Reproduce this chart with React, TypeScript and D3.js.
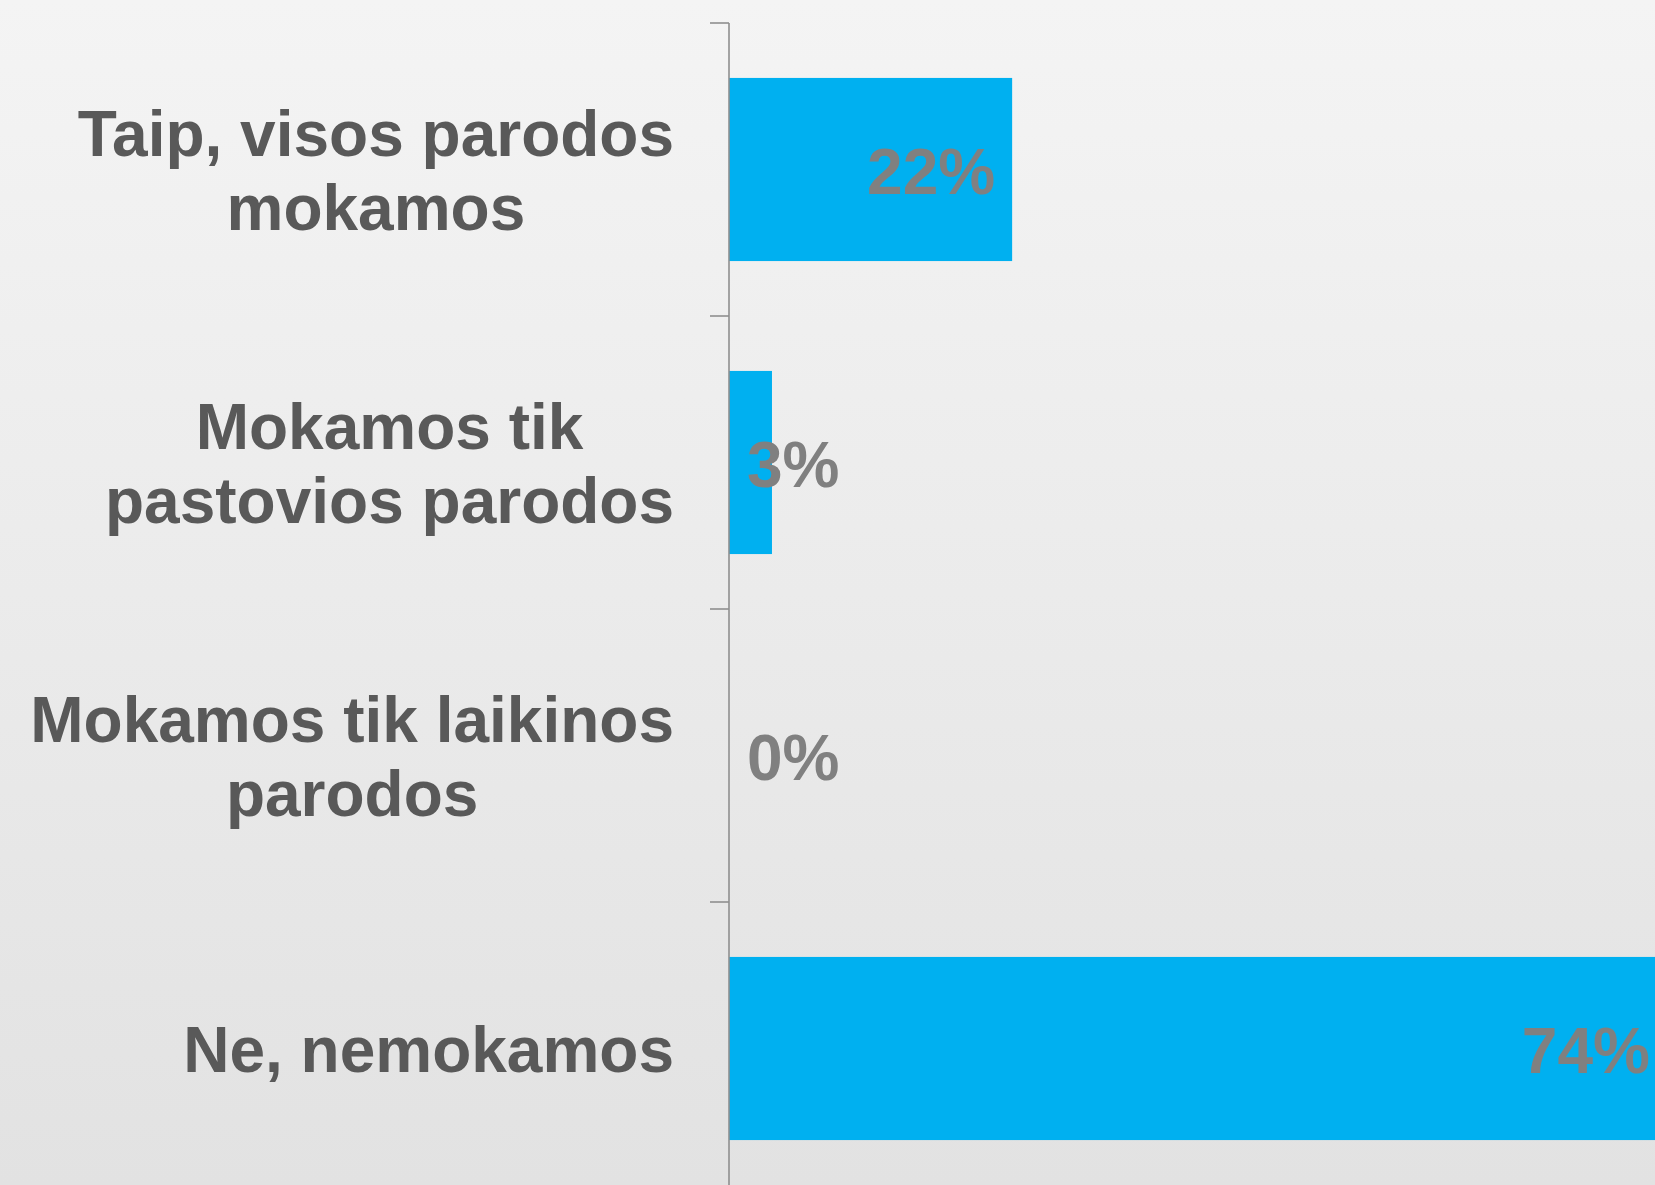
import React, { useMemo } from "react";
import * as d3 from "d3";

const W = 1655;
const H = 1185;

const categories: string[][] = [
  ["Taip, visos parodos", "mokamos"],
  ["Mokamos tik", "pastovios parodos"],
  ["Mokamos tik laikinos", "parodos"],
  ["Ne, nemokamos"],
];
const values: number[] = [22.4, 3.4, 0, 74.2];
const valueLabels: string[] = ["22%", "3%", "0%", "74%"];

const FONT = "'Liberation Sans', Arial, Helvetica, sans-serif";
const FS = 64;

function measure(text: string): number {
  const c = document.createElement("canvas").getContext("2d");
  if (!c) return text.length * FS * 0.55;
  c.font = `bold ${FS}px ${FONT}`;
  return c.measureText(text).width;
}

export default function App() {
  const axisX = 729;
  const y = d3
    .scaleBand<number>()
    .domain(d3.range(categories.length))
    .range([23, 23 + 293 * 4])
    .paddingInner(0.375)
    .paddingOuter(0.1875);
  const x = d3.scaleLinear().domain([0, 100]).range([axisX, axisX + 1264]);
  const step = y.step();
  const tickYs = d3.range(categories.length + 1).map((i) => 23 + i * step);

  const labelRight = 674;
  const widths = useMemo(() => categories.map((lines) => Math.max(...lines.map(measure))), []);

  return (
    <div style={{ position: "fixed", left: 0, top: 0, width: W, height: H, overflow: "hidden" }}>
      <svg width={W} height={H} style={{ display: "block" }}>
        <defs>
          <linearGradient id="bg" x1="0" y1="0" x2="0" y2="1">
            <stop offset="0" stopColor="#f4f4f4" />
            <stop offset="1" stopColor="#e2e2e2" />
          </linearGradient>
        </defs>
        <rect x={0} y={0} width={W} height={H} fill="url(#bg)" />
        {values.map((v, i) => (
          <rect
            key={"b" + i}
            x={x(0)}
            y={y(i)!}
            width={Math.max(0, x(v) - x(0))}
            height={y.bandwidth()}
            fill="#00b0f0"
          />
        ))}
        <line x1={axisX} x2={axisX} y1={23} y2={H} stroke="#8f8f8f" strokeWidth={1.6} />
        {tickYs.map((ty, i) => (
          <line key={"t" + i} x1={axisX - 19} x2={axisX} y1={ty} y2={ty} stroke="#8f8f8f" strokeWidth={1.6} />
        ))}
        {categories.map((lines, i) => {
          const cy = y(i)! + y.bandwidth() / 2;
          const lh = 74;
          const first = cy + 23 - ((lines.length - 1) * lh) / 2;
          const cx = labelRight - widths[i] / 2;
          return (
            <text
              key={"c" + i}
              x={cx}
              textAnchor="middle"
              fontFamily={FONT}
              fontWeight="bold"
              fontSize={FS}
              fill="#595959"
            >
              {lines.map((ln, j) => (
                <tspan key={j} x={cx} y={first + j * lh}>
                  {ln}
                </tspan>
              ))}
            </text>
          );
        })}
        {values.map((v, i) => {
          const cy = y(i)! + y.bandwidth() / 2 + 24;
          const end = x(v);
          const inside = end - x(0) > 150;
          return (
            <text
              key={"v" + i}
              x={inside ? Math.min(end, W + 12) - 17 : x(0) + 18}
              y={cy}
              textAnchor={inside ? "end" : "start"}
              fontFamily={FONT}
              fontWeight="bold"
              fontSize={FS}
              fill="#808080"
            >
              {valueLabels[i]}
            </text>
          );
        })}
      </svg>
    </div>
  );
}
